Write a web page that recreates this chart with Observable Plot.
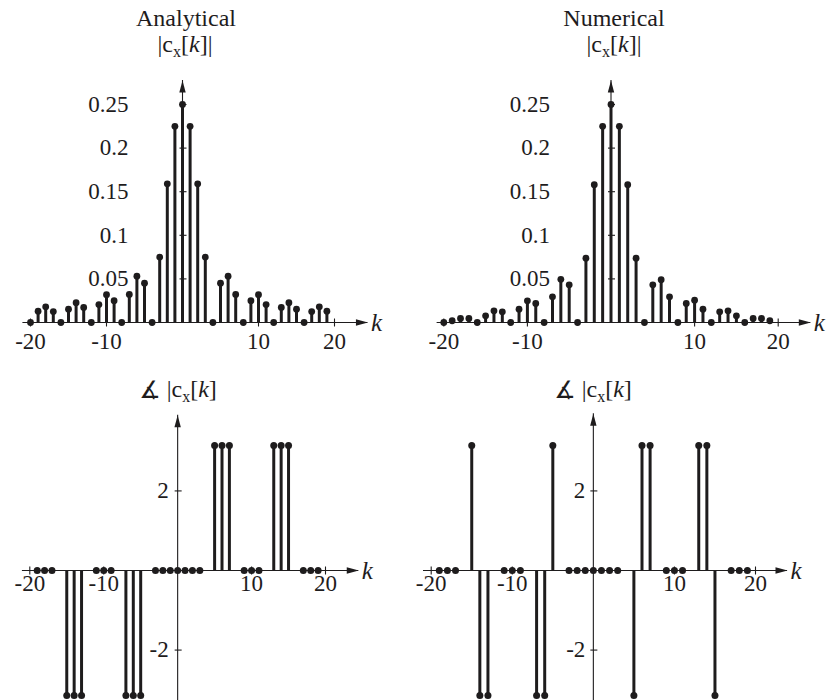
<!DOCTYPE html>
<html><head><meta charset="utf-8">
<script src="https://cdn.jsdelivr.net/npm/d3@7"></script>
<script src="https://cdn.jsdelivr.net/npm/@observablehq/plot@0.6"></script>
<style>
body{margin:0;background:#fff;}
#wrap{position:relative;width:826px;height:700px;overflow:hidden;font-family:"Liberation Serif","Times New Roman",serif;color:#1e1c1d;}
.lbl{position:absolute;transform:translateX(-50%);white-space:nowrap;font-size:24px;line-height:1;}
.lbl sub{font-size:16px;vertical-align:-5px;line-height:0}
.lbl i{font-style:italic}
.ang{font-family:"DejaVu Sans",sans-serif;font-size:24px;font-weight:normal;vertical-align:-1px}
.panel{position:absolute;}
</style></head><body><div id="wrap"></div>
<script>
// ---- data ----
const kAll = [-20,-19,-18,-17,-16,-15,-14,-13,-12,-11,-10,-9,-8,-7,-6,-5,-4,-3,-2,-1,0,1,2,3,4,5,6,7,8,9,10,11,12,13,14,15,16,17,18,19];
const magAnalytical = [0,0.013,0.018,0.0125,0,0.0153,0.0227,0.0173,0,0.0205,0.0318,0.025,0,0.0322,0.0531,0.045,0,0.075,0.159,0.225,0.25,0.225,0.159,0.075,0,0.045,0.0531,0.0322,0,0.025,0.0318,0.0205,0,0.0173,0.0227,0.0153,0,0.0125,0.018,0.013];
const magNumerical = [0,0.002,0.0046,0.0046,0,0.0076,0.0134,0.0122,0,0.0153,0.0248,0.0218,0,0.0294,0.0495,0.0432,0,0.0738,0.158,0.225,0.25,0.225,0.158,0.0738,0,0.0432,0.049,0.0294,0,0.0218,0.0256,0.0153,0,0.0122,0.0134,0.0076,0,0.0046,0.0046,0.002];
const kPhase = [-19,-18,-17,-15,-14,-13,-11,-10,-9,-7,-6,-5,-3,-2,-1,0,1,2,3,5,6,7,9,10,11,13,14,15,17,18,19];
const phaseAnalytical = [0,0,0,-3.1416,-3.1416,-3.1416,0,0,0,-3.1416,-3.1416,-3.1416,0,0,0,0,0,0,0,3.1416,3.1416,3.1416,0,0,0,3.1416,3.1416,3.1416,0,0,0];
const phaseNumerical = [0,0,0,3.1416,-3.1416,-3.1416,0,0,0,-3.1416,-3.1416,3.1416,0,0,0,0,0,0,0,-3.1416,3.1416,3.1416,0,0,0,3.1416,3.1416,-3.1416,0,0,0];
const xTicks = [-20,-10,10,20];
const xTickLabels = ["-20","-10","10","20"];
const magTicks = [0.05,0.1,0.15,0.2,0.25];
const magTickLabels = ["0.05","0.1","0.15","0.2","0.25"];
const phaseTicks = [-2,2];
const phaseTickLabels = ["-2","2"];

// ---- helpers ----
const INK = "#1e1c1d";
const FONT = '"Liberation Serif","Times New Roman",serif';
const arrowSym = {draw(c){c.moveTo(0,0);c.lineTo(-3.2,12);c.lineTo(3.2,12);c.closePath();}};
const vTick = {draw(c){c.moveTo(0,-4);c.lineTo(0,4);}};
const hTick = {draw(c){c.moveTo(-3,0);c.lineTo(4,0);}};

function panel(o){
  const rows = o.k.map((k,i)=>({k, v:o.v[i]}));
  return Plot.plot({
    width:o.width, height:o.height,
    marginLeft:o.mL, marginRight:o.mR, marginTop:o.mT, marginBottom:o.mB,
    x:{domain:[-20,20], axis:null},
    y:{domain:o.yDomain, axis:null},
    style:{fontFamily:FONT, fontSize:"23px", background:"transparent", overflow:"visible", color:INK},
    marks:[
      Plot.ruleY([0],{x1:o.xExt[0], x2:o.xExt[1], stroke:INK, strokeWidth:1.1}),
      Plot.ruleX([0],{y1:o.yExt[0], y2:o.yExt[1], stroke:INK, strokeWidth:1.1}),
      Plot.dot([o.xExt[1]],{x:d=>d, y:0, symbol:arrowSym, rotate:90, fill:INK, stroke:"none"}),
      Plot.dot([o.yExt[1]],{x:0, y:d=>d, symbol:arrowSym, fill:INK, stroke:"none"}),
      Plot.dot(xTicks,{x:d=>d, y:0, symbol:vTick, fill:"none", stroke:INK, strokeWidth:1.1}),
      Plot.dot(o.yTicks,{x:0, y:d=>d, symbol:hTick, fill:"none", stroke:INK, strokeWidth:1.1}),
      Plot.ruleX(rows,{x:"k", y1:0, y2:"v", stroke:INK, strokeWidth:o.stemW}),
      Plot.dot(rows,{x:"k", y:"v", r:o.dotR, fill:INK, stroke:"none"}),
      Plot.text(xTicks,{x:d=>d, y:0, text:(d,i)=>xTickLabels[i], dy:o.xLabelDy, fontSize:23, fill:INK}),
      Plot.text(o.yTicks,{x:0, y:d=>d, text:(d,i)=>o.yLabels[i], dx:o.yLabelDx, textAnchor:"end", fontSize:23, fill:INK}),
      Plot.text(["k"],{x:o.xExt[1], y:0, text:d=>d, dx:3, textAnchor:"start", fontSize:25, fontStyle:"italic", fill:INK})
    ]
  });
}

const wrap = document.getElementById("wrap");
function place(svg, left, top){ svg.classList.add("panel"); svg.style.left=left+"px"; svg.style.top=top+"px"; wrap.appendChild(svg); }
function label(html, cx, top){ const d=document.createElement("div"); d.className="lbl"; d.innerHTML=html; d.style.left=cx+"px"; d.style.top=top+"px"; wrap.appendChild(d); }

const magY = [0,0.25];
const phY = d3.extent(phaseAnalytical);

place(panel({k:kAll, v:magAnalytical, width:413, height:345, mL:30, mR:79, mT:104, mB:23,
  yDomain:magY, xExt:[-21,24.4], yExt:[0,0.2775], yTicks:magTicks, yLabels:magTickLabels,
  yLabelDx:-54, xLabelDy:19, stemW:3, dotR:3.4}), 0, 0);
place(panel({k:kAll, v:magNumerical, width:413, height:345, mL:30.3, mR:48.3, mT:104, mB:23,
  yDomain:magY, xExt:[-20.8,23.9], yExt:[0,0.2775], yTicks:magTicks, yLabels:magTickLabels,
  yLabelDx:-61, xLabelDy:19, stemW:3, dotR:3.4}), 413, 0);
place(panel({k:kPhase, v:phaseAnalytical, width:413, height:355, mL:29.3, mR:88, mT:100, mB:5,
  yDomain:phY, xExt:[-21,24.5], yExt:[-3.4,3.9], yTicks:phaseTicks, yLabels:phaseTickLabels,
  yLabelDx:-9, xLabelDy:13, stemW:3, dotR:3.5}), 0, 345);
place(panel({k:kPhase, v:phaseNumerical, width:413, height:355, mL:17.7, mR:71, mT:100, mB:5,
  yDomain:phY, xExt:[-20.95,23.95], yExt:[-3.4,3.94], yTicks:phaseTicks, yLabels:phaseTickLabels,
  yLabelDx:-8, xLabelDy:13, stemW:3, dotR:3.5}), 413, 345);

label("Analytical", 186, 6);
label("|c<sub>x</sub>[<i>k</i>]|", 185, 32);
label("Numerical", 614, 6);
label("|c<sub>x</sub>[<i>k</i>]|", 614, 32);
label('<span class="ang">∡</span>&nbsp;|c<sub>x</sub>[<i>k</i>]', 178, 377);
label('<span class="ang">∡</span>&nbsp;|c<sub>x</sub>[<i>k</i>]', 593, 377);
</script></body></html>
